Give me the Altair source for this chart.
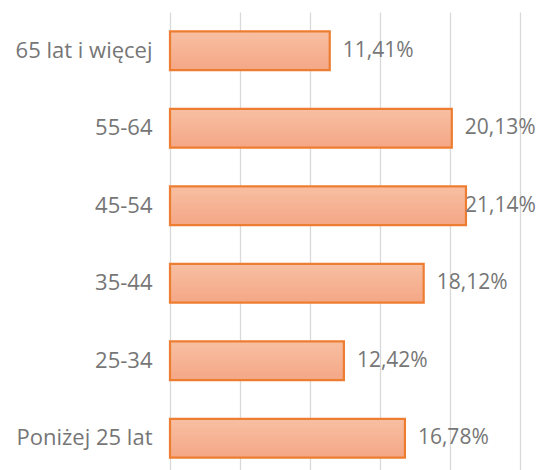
import altair as alt
import pandas as pd

categories = ["65 lat i więcej", "55-64", "45-54", "35-44", "25-34", "Poniżej 25 lat"]
values = [11.41, 20.13, 21.14, 18.12, 12.42, 16.78]
labels = ["11,41%", "20,13%", "21,14%", "18,12%", "12,42%", "16,78%"]

df = pd.DataFrame({"cat": categories, "val": values, "lab": labels})

FONT = "Open Sans"
GRAY = "#767676"

y = alt.Y("cat:N", sort=categories, title=None,
          scale=alt.Scale(paddingInner=0.5, paddingOuter=0.25),
          axis=alt.Axis(domain=False, ticks=False, labelFontSize=22, labelColor=GRAY,
                        labelFont=FONT, labelPadding=18, grid=False, labelLimit=200))
x = alt.X("val:Q", title=None, scale=alt.Scale(domain=[0, 25], nice=False),
          axis=alt.Axis(values=[0, 5, 10, 15, 20, 25], labels=False, ticks=False,
                        domain=False, grid=True, gridColor="#D9D9D9", gridWidth=1.3))

grad = alt.Gradient(gradient="linear", x1=0, y1=0, x2=0, y2=1,
                    stops=[alt.GradientStop(color="#F8BFA2", offset=0),
                           alt.GradientStop(color="#F4A786", offset=1)])

bars = alt.Chart(df).mark_bar(color=grad, stroke="#ED7D31", strokeWidth=2.2).encode(x=x, y=y)
# labels that would run past the chart edge are pulled back inside (as the original does)
text = alt.Chart(df).transform_calculate(
    xl="min(datum.val, 20.14)"
).mark_text(align="left", dx=13, fontSize=21, font=FONT, color=GRAY).encode(
    x="xl:Q", y=alt.Y("cat:N", sort=categories), text="lab:N")

chart = (bars + text).properties(
    width=350, height=465,
    autosize=alt.AutoSizeParams(type="none"),
    padding={"left": 162, "top": 4, "right": 16, "bottom": 0},
).configure_view(stroke=None)

chart.save("out.html", embed_options={"renderer": "svg", "actions": False})
